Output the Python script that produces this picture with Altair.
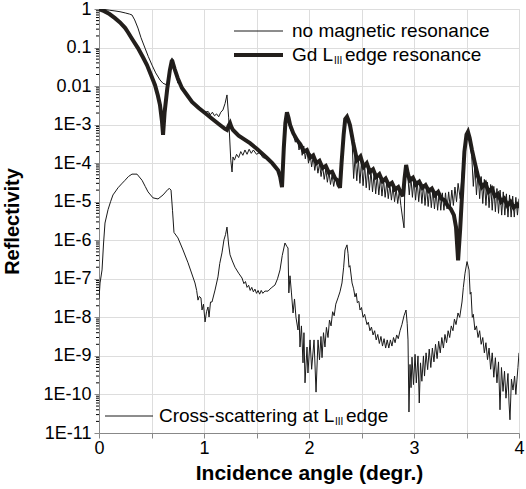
import altair as alt
import pandas as pd

FONT = "Liberation Sans"

# ---------------- data ----------------
# Gd L_III edge resonance (thick curve)
gd_angle = [0.00, 0.05, 0.10, 0.152, 0.20, 0.25, 0.276, 0.32, 0.371, 0.42,
            0.457, 0.50, 0.533, 0.56, 0.581, 0.60, 0.61, 0.625, 0.65, 0.675,
            0.695, 0.72, 0.75, 0.79, 0.84, 0.886, 0.95, 1.01, 1.08, 1.152,
            1.20, 1.219, 1.235, 1.248, 1.262, 1.276, 1.33, 1.38, 1.438, 1.50,
            1.55, 1.60, 1.65, 1.705, 1.725, 1.743, 1.76, 1.775, 1.79, 1.805,
            1.82, 1.85, 1.886, 1.92, 1.95, 1.98, 2.01, 2.04, 2.07, 2.10,
            2.13, 2.16, 2.19, 2.22, 2.25, 2.27, 2.295, 2.31, 2.33, 2.345,
            2.362, 2.375, 2.39, 2.42, 2.457, 2.49, 2.52, 2.55, 2.58, 2.61,
            2.64, 2.67, 2.70, 2.73, 2.76, 2.79, 2.82, 2.85, 2.875, 2.895,
            2.91, 2.925, 2.94, 2.96, 2.99, 3.02, 3.05, 3.08, 3.11, 3.14,
            3.17, 3.20, 3.23, 3.26, 3.29, 3.32, 3.35, 3.38, 3.40, 3.42,
            3.44, 3.46, 3.48, 3.50, 3.514, 3.53, 3.552, 3.58, 3.61, 3.648,
            3.68, 3.71, 3.74, 3.77, 3.80, 3.83, 3.86, 3.89, 3.92, 3.95,
            3.98, 4.00]
gd_refl = [1.0, 0.88, 0.74, 0.58, 0.45, 0.32, 0.25, 0.16, 0.097, 0.055,
           0.035, 0.018, 0.0107, 0.0058, 0.0032, 0.0012, 0.00054, 0.0021, 0.0085, 0.026,
           0.048, 0.028, 0.016, 0.0089, 0.0058, 0.0039, 0.0027, 0.0020, 0.0014, 0.00098,
           0.00078, 0.00073, 0.00095, 0.0011, 0.00085, 0.00073, 0.00052, 0.00042, 0.00033, 0.00024,
           0.00018, 0.000136, 0.0001, 6.6e-5, 4.5e-5, 2.4e-5, 2.5e-4, 1.1e-3, 2.1e-3, 1.5e-3,
           9.8e-4, 6.0e-4, 4.0e-4, 3.0e-4, 2.0e-4, 2.2e-4, 1.4e-4, 1.6e-4, 1.0e-4, 1.15e-4,
           7.5e-5, 8.5e-5, 5.6e-5, 6.0e-5, 4.0e-5, 3.6e-5, 2.3e-5, 1.0e-4, 5.5e-4, 1.4e-3,
           1.6e-3, 1.3e-3, 9.8e-4, 3.5e-4, 1.2e-4, 1.5e-4, 8.0e-5, 1.0e-4, 6.0e-5, 7.0e-5,
           4.4e-5, 5.2e-5, 3.4e-5, 4.0e-5, 2.7e-5, 3.1e-5, 2.1e-5, 2.4e-5, 1.7e-5, 1.4e-5,
           4.0e-5, 9.0e-5, 5.5e-5, 3.6e-5, 4.2e-5, 2.8e-5, 3.3e-5, 2.3e-5, 2.7e-5, 1.9e-5,
           2.2e-5, 1.5e-5, 1.8e-5, 1.2e-5, 1.1e-5, 8.0e-6, 6.5e-6, 4.5e-6, 2.2e-6, 3.0e-7,
           2.0e-6, 2.0e-5, 2.0e-4, 5.5e-4, 6.5e-4, 4.5e-4, 2.2e-4, 1.0e-4, 4.5e-5, 2.4e-5,
           3.0e-5, 1.8e-5, 2.2e-5, 1.4e-5, 1.6e-5, 1.0e-5, 1.2e-5, 8.0e-6, 1.0e-5, 7.0e-6,
           8.5e-6, 7.0e-6]

# no magnetic resonance (thin curve)
nomag_angle = [0.00, 0.05, 0.10, 0.152, 0.20, 0.25, 0.29, 0.314, 0.34, 0.371,
               0.40, 0.438, 0.47, 0.505, 0.54, 0.581, 0.61, 0.648, 0.665, 0.68,
               0.695, 0.715, 0.735, 0.75, 0.77, 0.79, 0.81, 0.84, 0.87, 0.90,
               0.95, 1.01, 1.04, 1.06, 1.08, 1.10, 1.12, 1.14, 1.16, 1.18,
               1.20, 1.219, 1.235, 1.255, 1.267, 1.276, 1.29, 1.31, 1.33, 1.35,
               1.37, 1.39, 1.41, 1.43, 1.45, 1.47, 1.50, 1.53, 1.56, 1.60,
               1.65, 1.705, 1.725, 1.743, 1.76, 1.775, 1.79, 1.805, 1.82, 1.85,
               1.87, 1.89, 1.905, 1.92, 1.935, 1.95, 1.965, 1.98, 1.995, 2.01,
               2.025, 2.04, 2.055, 2.07, 2.085, 2.10, 2.115, 2.13, 2.145, 2.16,
               2.175, 2.19, 2.205, 2.22, 2.235, 2.25, 2.27, 2.29, 2.31, 2.33,
               2.345, 2.36, 2.375, 2.39, 2.41, 2.425, 2.44, 2.455, 2.47, 2.485,
               2.50, 2.515, 2.53, 2.545, 2.56, 2.575, 2.59, 2.605, 2.62, 2.635,
               2.65, 2.665, 2.68, 2.695, 2.71, 2.725, 2.74, 2.755, 2.77, 2.785,
               2.80, 2.815, 2.83, 2.845, 2.86, 2.875, 2.89, 2.905, 2.915, 2.925,
               2.94, 2.955, 2.97, 2.985, 3.00, 3.015, 3.03, 3.045, 3.06, 3.075,
               3.09, 3.105, 3.12, 3.135, 3.15, 3.165, 3.18, 3.195, 3.21, 3.225,
               3.24, 3.255, 3.27, 3.285, 3.30, 3.315, 3.33, 3.345, 3.36, 3.375,
               3.39, 3.405, 3.42, 3.44, 3.46, 3.48, 3.50, 3.514, 3.53, 3.55,
               3.565, 3.58, 3.595, 3.61, 3.625, 3.64, 3.655, 3.67, 3.685, 3.70,
               3.715, 3.73, 3.745, 3.76, 3.775, 3.79, 3.805, 3.82, 3.835, 3.85,
               3.865, 3.88, 3.895, 3.91, 3.925, 3.94, 3.955, 3.97, 3.985, 4.00]
nomag_refl = [1.0, 0.97, 0.93, 0.89, 0.85, 0.79, 0.74, 0.70, 0.52, 0.32,
              0.18, 0.097, 0.058, 0.035, 0.022, 0.0144, 0.0118, 0.0107, 0.018, 0.035,
              0.054, 0.032, 0.020, 0.012, 0.013, 0.0085, 0.0082, 0.0055, 0.0048, 0.0036,
              0.0028, 0.0021, 0.0022, 0.0018, 0.0021, 0.0017, 0.0019, 0.0016, 0.0021, 0.0024,
              0.0035, 0.0059, 0.0015, 0.00012, 5.9e-5, 1.45e-4, 1.2e-4, 1.7e-4, 1.4e-4, 2.0e-4,
              1.6e-4, 2.2e-4, 1.7e-4, 2.3e-4, 1.8e-4, 2.2e-4, 1.7e-4, 1.9e-4, 1.4e-4, 1.3e-4,
              1.0e-4, 6.0e-5, 4.0e-5, 3.0e-5, 3.0e-4, 1.1e-3, 1.9e-3, 1.3e-3, 8.0e-4, 5.5e-4,
              3.5e-4, 4.5e-4, 2.2e-4, 3.5e-4, 1.6e-4, 2.8e-4, 1.3e-4, 2.3e-4, 1.0e-4, 1.8e-4,
              8.0e-5, 1.5e-4, 6.5e-5, 1.2e-4, 5.5e-5, 1.0e-4, 4.5e-5, 8.5e-5, 3.8e-5, 7.0e-5,
              3.2e-5, 6.0e-5, 2.8e-5, 5.0e-5, 2.5e-5, 4.2e-5, 2.5e-5, 2.8e-5, 1.2e-4, 6.0e-4,
              1.3e-3, 1.5e-3, 1.2e-3, 8.0e-4, 4.0e-4, 4.0e-5, 1.6e-4, 3.5e-5, 1.3e-4, 3.0e-5,
              1.1e-4, 2.6e-5, 9.0e-5, 2.3e-5, 7.5e-5, 2.0e-5, 6.5e-5, 1.8e-5, 5.5e-5, 1.6e-5,
              4.8e-5, 1.5e-5, 4.2e-5, 1.4e-5, 3.7e-5, 1.3e-5, 3.2e-5, 1.2e-5, 2.8e-5, 1.1e-5,
              2.5e-5, 1.0e-5, 2.2e-5, 9.0e-6, 1.9e-5, 8.0e-6, 4.0e-6, 2.1e-6, 5.0e-5, 8.5e-5,
              5.0e-5, 1.5e-5, 4.5e-5, 1.3e-5, 4.0e-5, 1.1e-5, 3.5e-5, 1.0e-5, 3.1e-5, 9.0e-6,
              2.8e-5, 8.0e-6, 2.5e-5, 7.5e-6, 2.3e-5, 7.0e-6, 2.1e-5, 6.5e-6, 1.9e-5, 6.0e-6,
              1.8e-5, 6.0e-6, 1.7e-5, 6.0e-6, 1.7e-5, 6.5e-6, 1.8e-5, 7.0e-6, 2.0e-5, 8.0e-6,
              2.4e-5, 1.0e-5, 3.0e-5, 1.2e-5, 6.0e-5, 2.5e-4, 5.0e-4, 6.0e-4, 4.0e-4, 1.5e-4,
              2.5e-5, 9.0e-5, 1.5e-5, 6.0e-5, 1.2e-5, 4.5e-5, 9.0e-6, 3.8e-5, 8.0e-6, 3.2e-5,
              7.0e-6, 2.8e-5, 6.0e-6, 2.5e-5, 5.5e-6, 2.2e-5, 5.0e-6, 2.0e-5, 4.5e-6, 1.8e-5,
              4.5e-6, 1.6e-5, 4.0e-6, 1.5e-5, 4.0e-6, 1.4e-5, 4.0e-6, 1.3e-5, 4.5e-6, 1.2e-5]

# Cross-scattering at L_III edge (lower thin curve)
cross_angle = [0.000, 0.010, 0.029, 0.043, 0.057, 0.086, 0.110, 0.133, 0.160, 0.181,
               0.215, 0.248, 0.280, 0.314, 0.362, 0.410, 0.440, 0.467, 0.514, 0.562,
               0.610, 0.657, 0.672, 0.686, 0.700, 0.714, 0.752, 0.800, 0.848, 0.914,
               0.930, 0.943, 0.955, 0.971, 0.981, 0.995, 1.010, 1.024, 1.038, 1.048,
               1.062, 1.076, 1.105, 1.133, 1.150, 1.171, 1.190, 1.205, 1.219, 1.234,
               1.248, 1.270, 1.295, 1.330, 1.362, 1.380, 1.395, 1.410, 1.425, 1.440,
               1.455, 1.470, 1.485, 1.500, 1.515, 1.530, 1.545, 1.560, 1.580, 1.610,
               1.640, 1.676, 1.700, 1.724, 1.745, 1.771, 1.788, 1.800, 1.808, 1.819,
               1.833, 1.848, 1.862, 1.876, 1.895, 1.905, 1.914, 1.928, 1.943, 1.952,
               1.962, 1.981, 1.990, 2.010, 2.025, 2.048, 2.067, 2.086, 2.100, 2.114,
               2.124, 2.138, 2.152, 2.166, 2.181, 2.195, 2.210, 2.225, 2.240, 2.255,
               2.276, 2.295, 2.314, 2.330, 2.343, 2.362, 2.372, 2.381, 2.390, 2.410,
               2.425, 2.438, 2.450, 2.460, 2.475, 2.486, 2.500, 2.515, 2.530, 2.552,
               2.565, 2.580, 2.595, 2.610, 2.625, 2.640, 2.655, 2.670, 2.685, 2.700,
               2.715, 2.730, 2.745, 2.760, 2.775, 2.790, 2.805, 2.820, 2.835, 2.850,
               2.867, 2.885, 2.905, 2.924, 2.935, 2.943, 2.952, 2.962, 2.972, 2.981,
               2.995, 3.010, 3.022, 3.038, 3.050, 3.062, 3.075, 3.090, 3.100, 3.115,
               3.130, 3.145, 3.160, 3.175, 3.190, 3.205, 3.220, 3.235, 3.250, 3.265,
               3.280, 3.295, 3.310, 3.325, 3.340, 3.355, 3.371, 3.385, 3.400, 3.419,
               3.435, 3.457, 3.470, 3.486, 3.505, 3.524, 3.535, 3.543, 3.555, 3.565,
               3.580, 3.595, 3.610, 3.625, 3.640, 3.655, 3.670, 3.685, 3.700, 3.715,
               3.730, 3.745, 3.760, 3.775, 3.790, 3.805, 3.819, 3.833, 3.848, 3.862,
               3.876, 3.895, 3.905, 3.914, 3.928, 3.943, 3.958, 3.970, 3.981, 3.990,
               4.000]
cross_refl = [3.0e-8, 7.8e-8, 1.7e-7, 8.0e-7, 2.8e-6, 6.2e-6, 1.0e-5, 1.5e-5, 1.9e-5, 2.3e-5,
              2.9e-5, 3.6e-5, 4.5e-5, 5.2e-5, 5.2e-5, 3.6e-5, 2.5e-5, 1.8e-5, 1.26e-5, 1.18e-5,
              1.5e-5, 2.1e-5, 2.2e-5, 2.0e-5, 6.0e-6, 1.6e-6, 1.15e-6, 5.6e-7, 2.6e-7, 7.8e-8,
              5.0e-8, 2.8e-8, 3.5e-8, 3.2e-8, 1.55e-8, 2.2e-8, 7.6e-9, 1.4e-8, 1.86e-8, 1.02e-8,
              2.5e-8, 2.5e-8, 5.1e-8, 1.12e-7, 2.5e-7, 4.7e-7, 1.02e-6, 1.4e-6, 2.2e-6, 8.0e-7,
              4.2e-7, 2.9e-7, 2.0e-7, 1.4e-7, 1.05e-7, 7.5e-8, 8.5e-8, 6.0e-8, 6.8e-8, 5.0e-8,
              6.0e-8, 4.6e-8, 5.4e-8, 4.2e-8, 5.0e-8, 4.0e-8, 5.0e-8, 4.2e-8, 4.8e-8, 4.8e-8,
              5.8e-8, 6.9e-8, 1.0e-7, 1.7e-7, 4.0e-7, 8.5e-7, 7.0e-7, 6.3e-7, 4.3e-8, 1.2e-7,
              4.3e-8, 1.3e-8, 3.0e-8, 1.0e-8, 4.7e-9, 1.2e-8, 1.7e-9, 6.0e-9, 6.6e-10, 4.0e-9,
              2.0e-10, 1.7e-9, 3.6e-10, 2.6e-9, 4.5e-10, 2.6e-9, 1.15e-10, 2.6e-9, 7.9e-10, 3.2e-9,
              9.0e-10, 4.0e-9, 1.7e-9, 5.5e-9, 3.0e-9, 8.5e-9, 6.0e-9, 1.4e-8, 1.1e-8, 2.2e-8,
              3.2e-8, 4.6e-8, 7.8e-8, 2.0e-7, 5.6e-7, 7.6e-7, 4.5e-7, 2.0e-7, 2.2e-7, 7.8e-8,
              5.5e-8, 3.4e-8, 4.2e-8, 2.4e-8, 2.6e-8, 1.55e-8, 1.8e-8, 1.0e-8, 1.2e-8, 6.5e-9,
              7.5e-9, 4.5e-9, 5.6e-9, 3.5e-9, 4.5e-9, 2.6e-9, 3.6e-9, 2.1e-9, 3.2e-9, 1.8e-9,
              2.8e-9, 1.6e-9, 2.6e-9, 1.6e-9, 2.6e-9, 1.8e-9, 3.0e-9, 2.2e-9, 3.5e-9, 2.8e-9,
              4.5e-9, 6.5e-9, 1.1e-8, 1.55e-8, 7.0e-9, 2.6e-9, 3.5e-11, 6.0e-10, 1.5e-10, 9.3e-10,
              1.8e-10, 1.1e-9, 2.0e-10, 1.0e-9, 6.0e-11, 6.6e-10, 2.2e-10, 1.0e-9, 3.0e-10, 1.2e-9,
              4.4e-10, 1.5e-9, 5.0e-10, 1.6e-9, 7.0e-10, 2.0e-9, 8.5e-10, 2.4e-9, 1.2e-9, 3.0e-9,
              1.6e-9, 3.6e-9, 2.2e-9, 4.5e-9, 3.0e-9, 6.0e-9, 4.5e-9, 9.0e-9, 6.5e-9, 1.3e-8,
              1.0e-8, 2.5e-8, 6.0e-8, 1.4e-7, 2.8e-7, 1.7e-7, 4.0e-8, 4.5e-8, 1.0e-8, 1.2e-8,
              4.7e-9, 6.0e-9, 3.0e-9, 4.5e-9, 2.0e-9, 3.0e-9, 1.2e-9, 2.2e-9, 8.0e-10, 1.6e-9,
              4.5e-10, 1.2e-9, 2.8e-10, 9.0e-10, 2.0e-10, 7.0e-10, 4.0e-11, 5.0e-10, 1.2e-10, 4.0e-10,
              8.0e-11, 3.5e-10, 6.0e-11, 2.2e-11, 2.5e-10, 1.3e-10, 3.0e-10, 1.0e-10, 2.5e-10, 5.0e-10,
              1.2e-9]

# axis ticks
x_ticks = [0, 0.5, 1, 1.5, 2, 2.5, 3, 3.5, 4]
y_major_ticks = [1e-11, 1e-10, 1e-9, 1e-8, 1e-7, 1e-6, 1e-5, 1e-4, 1e-3, 0.01, 0.1, 1]
y_minor_ticks = [m * d for d in y_major_ticks[:-1] for m in range(2, 10)]

# legend texts
leg_nomag = "no magnetic resonance"
leg_gd_main = "Gd L"
leg_gd_sub = "III"
leg_gd_tail = "edge resonance"
leg_cross_main = "Cross-scattering at L"
leg_cross_sub = "III"
leg_cross_tail = "edge"

# ---------------- chart ----------------
df_gd = pd.DataFrame({"x": gd_angle, "y": gd_refl})
df_nomag = pd.DataFrame({"x": nomag_angle, "y": nomag_refl})
df_cross = pd.DataFrame({"x": cross_angle, "y": cross_refl})
df_minor = pd.DataFrame({"y": y_minor_ticks})
dummy = pd.DataFrame({"a": [0]})

LINE = "#1a1a1a"
THICK = "#231f1c"

xscale = alt.Scale(domain=[0, 4], nice=False, zero=False)
yscale = alt.Scale(type="log", domain=[1e-11, 1], nice=False)

x_enc = alt.X("x:Q", scale=xscale, axis=alt.Axis(
    values=x_ticks,
    labelExpr="datum.value % 1 == 0 ? '' + datum.value : ''",
    title="Incidence angle (degr.)",
    titleFontSize=21, titleFontWeight="bold",
    titleX=210, titleY=40, titleAlign="center", titleBaseline="middle",
    tickSize=5, labelPadding=1, labelFontSize=18,
    labelBaseline="top", labelFlush=False))
y_enc = alt.Y("y:Q", scale=yscale, axis=alt.Axis(
    values=y_major_ticks,
    labelExpr="datum.value >= 0.01 ? '' + datum.value : '1E' + round(log(datum.value) / LN10)",
    title="Reflectivity",
    titleFontSize=20, titleFontWeight="bold",
    titleAngle=-90, titleX=-87, titleY=212,
    titleAlign="center", titleBaseline="middle",
    tickSize=5, labelPadding=3, labelFontSize=18, labelFlush=False))

thick = alt.Chart(df_gd).mark_line(color=THICK, strokeWidth=4, clip=True,
                                    strokeJoin="miter", strokeMiterLimit=3).encode(
    x=x_enc, y=y_enc, order="x:Q")
thin = alt.Chart(df_nomag).mark_line(color=LINE, strokeWidth=1, clip=True).encode(
    x=alt.X("x:Q", scale=xscale), y=alt.Y("y:Q", scale=yscale), order="x:Q")
cross = alt.Chart(df_cross).mark_line(color=LINE, strokeWidth=1, clip=True).encode(
    x=alt.X("x:Q", scale=xscale), y=alt.Y("y:Q", scale=yscale), order="x:Q")

minor = alt.Chart(df_minor).mark_rule(color="black", strokeWidth=1).encode(
    y=alt.Y("y:Q", scale=yscale), x=alt.value(-3), x2=alt.value(0))


def legend_line(x1, x2, y, width):
    return alt.Chart(dummy).mark_rule(color=THICK if width > 1 else LINE,
                                       strokeWidth=width).encode(
        x=alt.value(x1), x2=alt.value(x2), y=alt.value(y))


def legend_text(txt, x, y, size=19, dy=0):
    return alt.Chart(dummy).mark_text(text=txt, align="left", baseline="middle",
                                       font=FONT, fontSize=size, color="black",
                                       dy=dy).encode(
        x=alt.value(x), y=alt.value(y))


legend = [
    legend_line(135, 184, 22, 1),
    legend_text(leg_nomag, 193, 22),
    legend_line(135, 184, 46, 4),
    legend_text(leg_gd_main, 193, 46),
    legend_text(leg_gd_sub, 235, 46, size=10, dy=6),
    legend_text(leg_gd_tail, 246, 46),
    legend_line(6, 54, 407, 1),
    legend_text(leg_cross_main, 60, 407),
    legend_text(leg_cross_sub, 236, 407, size=10, dy=6),
    legend_text(leg_cross_tail, 247, 407),
]

chart = alt.layer(thick, thin, cross, minor, *legend).properties(
    width=420, height=424,
    autosize=alt.AutoSizeParams(type="none"),
    padding={"left": 99, "top": 9, "right": 7, "bottom": 56},
).configure_view(
    stroke="black", strokeWidth=1
).configure_axis(
    grid=False, domainColor="black", tickColor="black", labelColor="black",
    titleColor="black", labelFont=FONT, titleFont=FONT, domainWidth=1, tickWidth=1
).configure(background="white")

chart.save("out.html", embed_options={"renderer": "svg", "actions": False})
